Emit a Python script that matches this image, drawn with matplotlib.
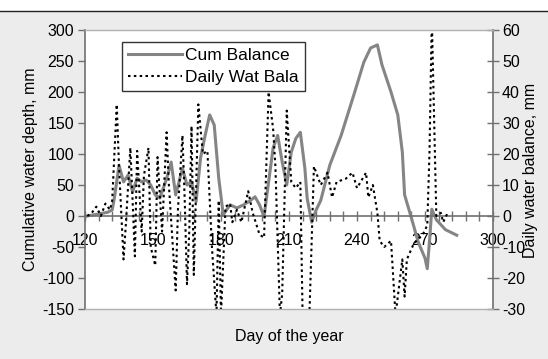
import matplotlib.pyplot as plt
from matplotlib.lines import Line2D
from matplotlib.patches import Rectangle
from matplotlib.ticker import MultipleLocator

plt.rcParams['font.family'] = ['Liberation Sans', 'DejaVu Sans']
plt.rcParams['font.size'] = 11
plt.rcParams['axes.unicode_minus'] = False

# cumulative water balance (mm), left axis
cum_days = [121, 124, 127, 130, 132, 133, 135, 137, 139, 141, 143, 145, 147, 149,
            151, 153, 156, 158, 160, 163, 165, 167, 169, 171, 173, 175, 177, 179,
            181, 184, 187, 190, 193, 195, 197, 199, 201, 203, 205, 207, 209, 211,
            213, 215, 217, 218, 220, 222, 224, 228, 233, 239, 243, 246, 249, 251,
            255, 258, 260, 261, 264, 267, 270, 271, 272, 273, 275, 279, 284]
cum_balance = [0, 2, 4, 6, 10, 30, 82, 55, 66, 39, 61, 55, 58, 50,
               34, 29, 60, 87, 34, 77, 50, 55, 23, 94, 130, 163, 147, 61,
               2, 18, 13, 18, 25, 31, 18, -1, 55, 110, 130, 87, 50, 103,
               125, 135, 77, 29, -10, 10, 25, 82, 130, 200, 248, 271, 276, 244,
               200, 163, 103, 34, -3, -42, -68, -85, -40, 11, -6, -22, -31]

# daily water balance (mm), right axis
daily_days = [121, 123, 125, 127, 129, 131, 132, 134, 135, 137, 138, 140, 141, 142,
              143, 145, 146, 148, 149, 151, 152, 154, 156, 157, 160, 161, 163, 164,
              165, 166, 167, 168, 170, 172, 174, 176, 178, 179, 180, 182, 184, 185,
              187, 189, 192, 194, 197, 199, 201, 203, 204, 206, 207, 209, 211, 213,
              215, 216, 219, 221, 224, 227, 229, 231, 235, 238, 240, 244, 245, 247,
              249, 250, 252, 255, 257, 260, 261, 262, 265, 269, 271, 272, 273, 275,
              277, 278, 280]
daily_balance = [0, 1, 3, 0, 4, 2, 5, 36, 16, -14, -3, 22, 5, -13,
                 21, -5, 13, 22, -10, -16, 19, -5, 27, 10, -24, 2, 26, 5,
                 -22, -5, 29, -19, 36, 20, 21, -10, -32, 5, -32, 3, 4, -2,
                 2, -2, 8, 1, -6, -7, 40, 28, 16, -32, -25, 34, 11, 9,
                 11, -32, -32, 16, 10, 14, 6, 11, 12, 14, 9, 14, 6, 10,
                 1, -8, -10, -8, -32, -14, -26, -14, -9, -6, -3, 21, 64, 0,
                 1, -2, 1]

fig = plt.figure(figsize=(5.48, 3.59), dpi=100)
fig.patch.set_facecolor('white')
# grey chart area with a dark top edge
fig.patches.append(Rectangle((0, 0), 1, 1 - 11 / 359, transform=fig.transFigure,
                             facecolor='#ececec', edgecolor='none', zorder=-10))
fig.lines.append(Line2D([0, 1], [1 - 11 / 359] * 2, transform=fig.transFigure,
                        color='#222222', lw=1))

ax = fig.add_axes([85 / 548, 50 / 359, 408 / 548, 279 / 359])
ax.set_facecolor('white')
ax2 = ax.twinx()

ax.plot(cum_days, cum_balance, color='#858585', lw=2.2, label='Cum Balance')
ax2.plot(daily_days, daily_balance, color='black', lw=1.5,
         linestyle=(0, (1.2, 1.6)), label='Daily Wat Bala')

ax.set_xlim(120, 300)
ax.set_ylim(-150, 300)
ax2.set_ylim(-30, 60)

ax.xaxis.set_major_locator(MultipleLocator(30))
ax.xaxis.set_minor_locator(MultipleLocator(6))
ax.yaxis.set_major_locator(MultipleLocator(50))
ax2.yaxis.set_major_locator(MultipleLocator(10))

# horizontal axis crosses at zero
ax.spines['bottom'].set_position(('data', 0))
ax.spines['top'].set_visible(False)
ax.spines['right'].set_visible(False)
for s in ['left', 'bottom']:
    ax.spines[s].set_color('#707070')
    ax.spines[s].set_linewidth(1.2)
for s in ['top', 'bottom']:
    ax2.spines[s].set_color('#b0b0b0')
    ax2.spines[s].set_linewidth(1)
ax2.spines['left'].set_visible(False)
ax2.spines['right'].set_color('#707070')
ax2.spines['right'].set_linewidth(1.2)

ax.tick_params(axis='x', which='both', direction='inout', length=7, width=1,
               color='#707070', pad=9, labelsize=11.5)
ax.tick_params(axis='y', direction='out', length=5, width=1, color='#707070',
               labelsize=11.5, pad=3)
ax2.tick_params(axis='y', direction='inout', length=9, width=1, color='#707070',
                labelsize=11.5, pad=2)

ax.set_ylabel('Cumulative water depth, mm', fontsize=11.5, labelpad=3)
fig.text(531 / 548, 170 / 359 * 0 + 1 - 170 / 359, 'Daily water balance, mm',
         rotation=90, ha='center', va='center', fontsize=11.5)
fig.text(289 / 548, 1 - 337 / 359, 'Day of the year', ha='center', va='center',
         fontsize=11.5)

h1, l1 = ax.get_legend_handles_labels()
h2, l2 = ax2.get_legend_handles_labels()
leg = ax2.legend(h1 + h2, l1 + l2, loc='upper left',
                 bbox_to_anchor=(37 / 408, 267 / 279), fancybox=False,
                 framealpha=1, edgecolor='#333333', handlelength=3.1,
                 handletextpad=0.2, labelspacing=0.4, borderpad=0.35,
                 borderaxespad=0, fontsize=12.5)
leg.get_frame().set_linewidth(1)

fig.savefig('out.png', dpi=100, facecolor=fig.get_facecolor())
